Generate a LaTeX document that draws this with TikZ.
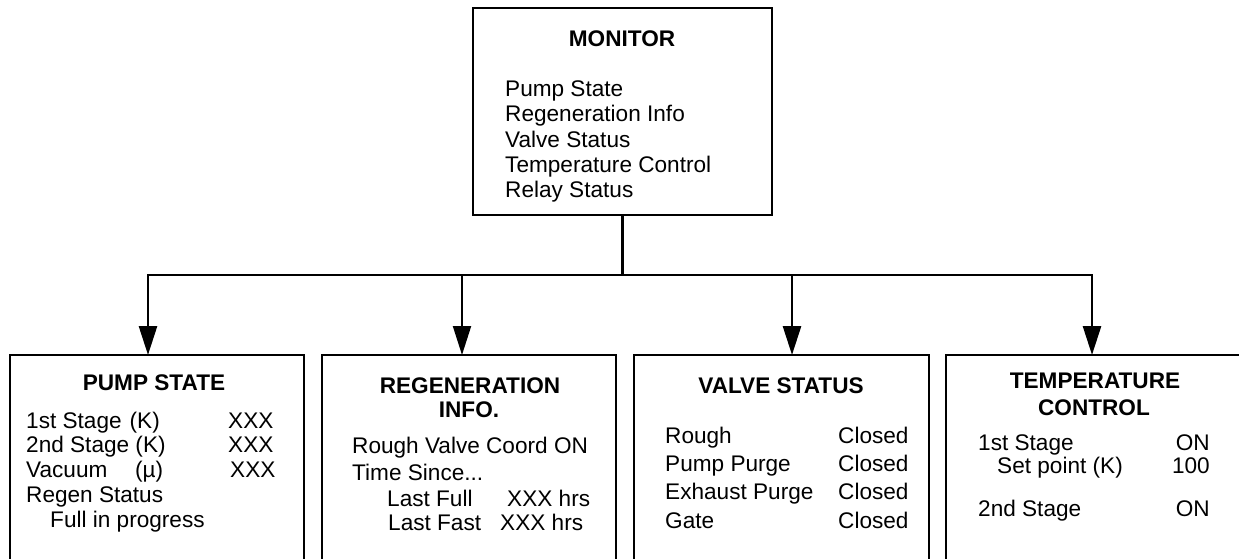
\documentclass[tikz,border=0pt]{standalone}
\usepackage{fontspec}
\setmainfont{Liberation Sans}
\usetikzlibrary{arrows.meta}
\begin{document}
\begin{tikzpicture}[x=1pt,y=-1pt,
  box/.style={draw, line width=1.3pt, rectangle, inner sep=0pt},
  txt/.style={inner sep=0pt, anchor=base west, text height=16pt, text depth=3pt, font=\fontsize{22.6}{25}\selectfont},
  rtxt/.style={txt, anchor=base east},
  ttl/.style={inner sep=0pt, anchor=base, text height=16pt, text depth=3pt, font=\fontsize{22.6}{25}\selectfont\bfseries},
  conn/.style={line width=2.7pt},
  arr/.style={conn, -{Triangle[width=18pt,length=29pt]}}]
\clip (0,0) rectangle (1239,559);
% boxes
\node[box, minimum width=299pt, minimum height=207pt] (monitor) at (622.5,111.5) {};
\node[box, minimum width=294pt, minimum height=210pt] (pump) at (157,460) {};
\node[box, minimum width=294pt, minimum height=210pt] (regen) at (469,460) {};
\node[box, minimum width=295pt, minimum height=210pt] (valve) at (781.5,460) {};
\node[box, minimum width=295pt, minimum height=210pt] (temp) at (1093.5,460) {};
% connectors
\coordinate (j) at (622.5,275);
\coordinate (pin) at (148,355);
\coordinate (rin) at (462,355);
\coordinate (vin) at (792,355);
\coordinate (tin) at (1092,355);
\draw[conn] (monitor.south) -- (j);
\draw[arr] (j) -| (pin);
\draw[arr] (j) -| (tin);
\draw[arr] (j) -| (vin);
\draw[arr, line width=2pt] (j) -| (rin);
% monitor text
\node[ttl] (mt) at (622,47) {MONITOR};
\node[txt] (m1) at (505,97) {Pump State};
\node[txt] (m2) at (505,122) {Regeneration Info};
\node[txt] (m3) at (505,147) {Valve Status};
\node[txt] (m4) at (505,172) {Temperature Control};
\node[txt] (m5) at (505,197) {Relay Status};
% pump state
\node[ttl] (pt) at (154,390) {PUMP STATE};
\node[txt] (p1) at (26,428) {1st Stage\hspace{8pt}(K)};
\node[txt] (p1v) at (228,428) {XXX};
\node[txt] (p2) at (26,452) {2nd Stage (K)};
\node[txt] (p2v) at (228,452) {XXX};
\node[txt] (p3) at (26,477) {Vacuum};
\node[txt] (p3k) at (135,477) {(µ)};
\node[txt] (p3v) at (230,477) {XXX};
\node[txt] (p4) at (26,502) {Regen Status};
\node[txt] (p5) at (50,527) {Full in progress};
% regeneration info
\node[ttl] (rt1) at (470,393) {REGENERATION};
\node[ttl] (rt2) at (469,417) {INFO.};
\node[txt] (r1) at (352,453) {Rough Valve Coord ON};
\node[txt] (r2) at (352,480) {Time Since...};
\node[txt] (r3) at (387,506) {Last Full};
\node[txt] (r3v) at (507,506) {XXX hrs};
\node[txt] (r4) at (388,530) {Last Fast};
\node[txt] (r4v) at (500,530) {XXX hrs};
% valve status
\node[ttl] (vt) at (781,393) {VALVE STATUS};
\node[txt] (v1) at (665,443) {Rough};
\node[txt] (v1v) at (838,443) {Closed};
\node[txt] (v2) at (665,471) {Pump Purge};
\node[txt] (v2v) at (838,471) {Closed};
\node[txt] (v3) at (665,499.5) {Exhaust Purge};
\node[txt] (v3v) at (838,499.5) {Closed};
\node[txt] (v4) at (665,528) {Gate};
\node[txt] (v4v) at (838,528) {Closed};
% temperature control
\node[ttl] (tt1) at (1095,388) {TEMPERATURE};
\node[ttl] (tt2) at (1094,415) {CONTROL};
\node[txt] (t1) at (978,450) {1st Stage};
\node[rtxt] (t1v) at (1210,450) {ON};
\node[txt] (t2) at (997,473) {Set point (K)};
\node[rtxt] (t2v) at (1210,473) {100};
\node[txt] (t3) at (978,516) {2nd Stage};
\node[rtxt] (t3v) at (1210,516) {ON};
\end{tikzpicture}
\end{document}
